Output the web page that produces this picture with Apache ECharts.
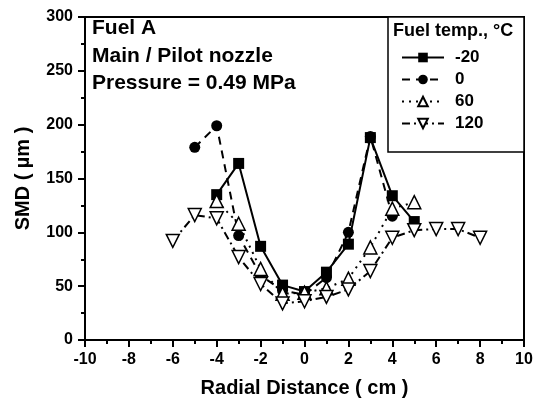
<!DOCTYPE html>
<html>
<head>
<meta charset="utf-8">
<title>SMD chart</title>
<script src="https://cdn.jsdelivr.net/npm/echarts@6/dist/echarts.min.js"></script>
<style>
  html, body { margin: 0; padding: 0; background: #fff; }
  #main { width: 542px; height: 408px; }
</style>
</head>
<body>
<div id="main"></div>
<script>
// data
var xM20 = [-4, -3, -2, -1, 0, 1, 2, 3, 4, 5];
var smdM20 = [135, 164, 87, 51, 45, 63, 89, 188, 134, 110];

var x0 = [-5, -4, -3, -2, -1, 0, 1, 2, 3, 4];
var smd0 = [179, 199, 97, 60, 46, 42, 58, 100, 189, 115];

var x60 = [-4, -3, -2, -1, 0, 1, 2, 3, 4, 5];
var smd60 = [129, 108, 66, 43, 44, 48, 57, 86, 122, 128];

var x120 = [-6, -5, -4, -3, -2, -1, 0, 1, 2, 3, 4, 5, 6, 7, 8];
var smd120 = [92, 116, 113, 77, 52, 34, 36, 40, 47, 64, 95, 102, 103, 103, 95];

var names = ['-20', '0', '60', '120'];
var notes = ['Fuel A', 'Main / Pilot nozzle', 'Pressure = 0.49 MPa'];

var font = 'Liberation Sans, Arial, sans-serif';

function pairs(xs, ys) {
  var out = [];
  for (var i = 0; i < xs.length; i++) out.push([xs[i], ys[i]]);
  return out;
}

var chart = echarts.init(document.getElementById('main'));

var option = {
  backgroundColor: '#fff',
  animation: false,
  grid: { left: 85, right: 18, top: 17, bottom: 68, show: true, borderColor: '#000', borderWidth: 2 },
  xAxis: {
    type: 'value', min: -10, max: 10, interval: 2,
    name: 'Radial Distance ( cm )', nameLocation: 'middle', nameGap: 38,
    nameTextStyle: { fontFamily: font, fontWeight: 'bold', fontSize: 20, color: '#000' },
    axisLine: { onZero: false, lineStyle: { color: '#000', width: 2 } },
    axisTick: { inside: false, length: 7, lineStyle: { color: '#000', width: 2 } },
    minorTick: { show: true, splitNumber: 2, length: 4, lineStyle: { color: '#000', width: 2 } },
    axisLabel: { fontFamily: font, fontWeight: 'bold', fontSize: 16, color: '#000', margin: 12 },
    splitLine: { show: false }
  },
  yAxis: {
    type: 'value', min: 0, max: 300, interval: 50,
    name: 'SMD ( \u00b5m )', nameLocation: 'middle', nameGap: 52,
    nameTextStyle: { fontFamily: font, fontWeight: 'bold', fontSize: 20, color: '#000' },
    axisLine: { show: true, onZero: false, lineStyle: { color: '#000', width: 2 } },
    axisTick: { show: true, inside: false, length: 7, lineStyle: { color: '#000', width: 2 } },
    minorTick: { show: true, splitNumber: 2, length: 4, lineStyle: { color: '#000', width: 2 } },
    axisLabel: { fontFamily: font, fontWeight: 'bold', fontSize: 16, color: '#000', margin: 12 },
    splitLine: { show: false }
  },
  legend: {
    orient: 'vertical', left: 396, top: 44,
    itemWidth: 42, itemHeight: 12, itemGap: 5,
    data: names,
    textStyle: { fontFamily: font, fontWeight: 'bold', fontSize: 17, color: '#000', lineHeight: 16, padding: [0, 0, 0, 6] },
    z: 10
  },
  graphic: [
    { type: 'rect', z: 5, shape: { x: 388, y: 17, width: 136, height: 135 },
      style: { fill: '#fff', stroke: '#000', lineWidth: 1.5 } },
    { type: 'text', z: 6, left: 393, top: 22,
      style: { text: 'Fuel temp., \u00b0C', font: 'bold 18px ' + font, fill: '#000' } },
    { type: 'text', left: 92, top: 18,
      style: { text: notes[0], font: 'bold 21px ' + font, fill: '#000' } },
    { type: 'text', left: 92, top: 46,
      style: { text: notes[1], font: 'bold 21px ' + font, fill: '#000' } },
    { type: 'text', left: 92, top: 73,
      style: { text: notes[2], font: 'bold 21px ' + font, fill: '#000' } }
  ],
  series: [
    {
      name: names[0], type: 'line', data: pairs(xM20, smdM20),
      symbol: 'rect', symbolSize: 11,
      itemStyle: { color: '#000' },
      lineStyle: { color: '#000', width: 2, type: 'solid' }
    },
    {
      name: names[1], type: 'line', data: pairs(x0, smd0),
      symbol: 'circle', symbolSize: 11,
      itemStyle: { color: '#000' },
      lineStyle: { color: '#000', width: 2, type: [8, 6] }
    },
    {
      name: names[2], type: 'line', data: pairs(x60, smd60),
      symbol: 'triangle', symbolSize: 13,
      itemStyle: { color: '#fff', borderColor: '#000', borderWidth: 1.5 },
      lineStyle: { color: '#000', width: 2, type: [2, 5] }
    },
    {
      name: names[3], type: 'line', data: pairs(x120, smd120),
      symbol: 'triangle', symbolSize: 13, symbolRotate: 180,
      itemStyle: { color: '#fff', borderColor: '#000', borderWidth: 1.5 },
      lineStyle: { color: '#000', width: 2, type: [8, 4, 2, 4] }
    }
  ]
};

chart.setOption(option);
</script>
</body>
</html>
